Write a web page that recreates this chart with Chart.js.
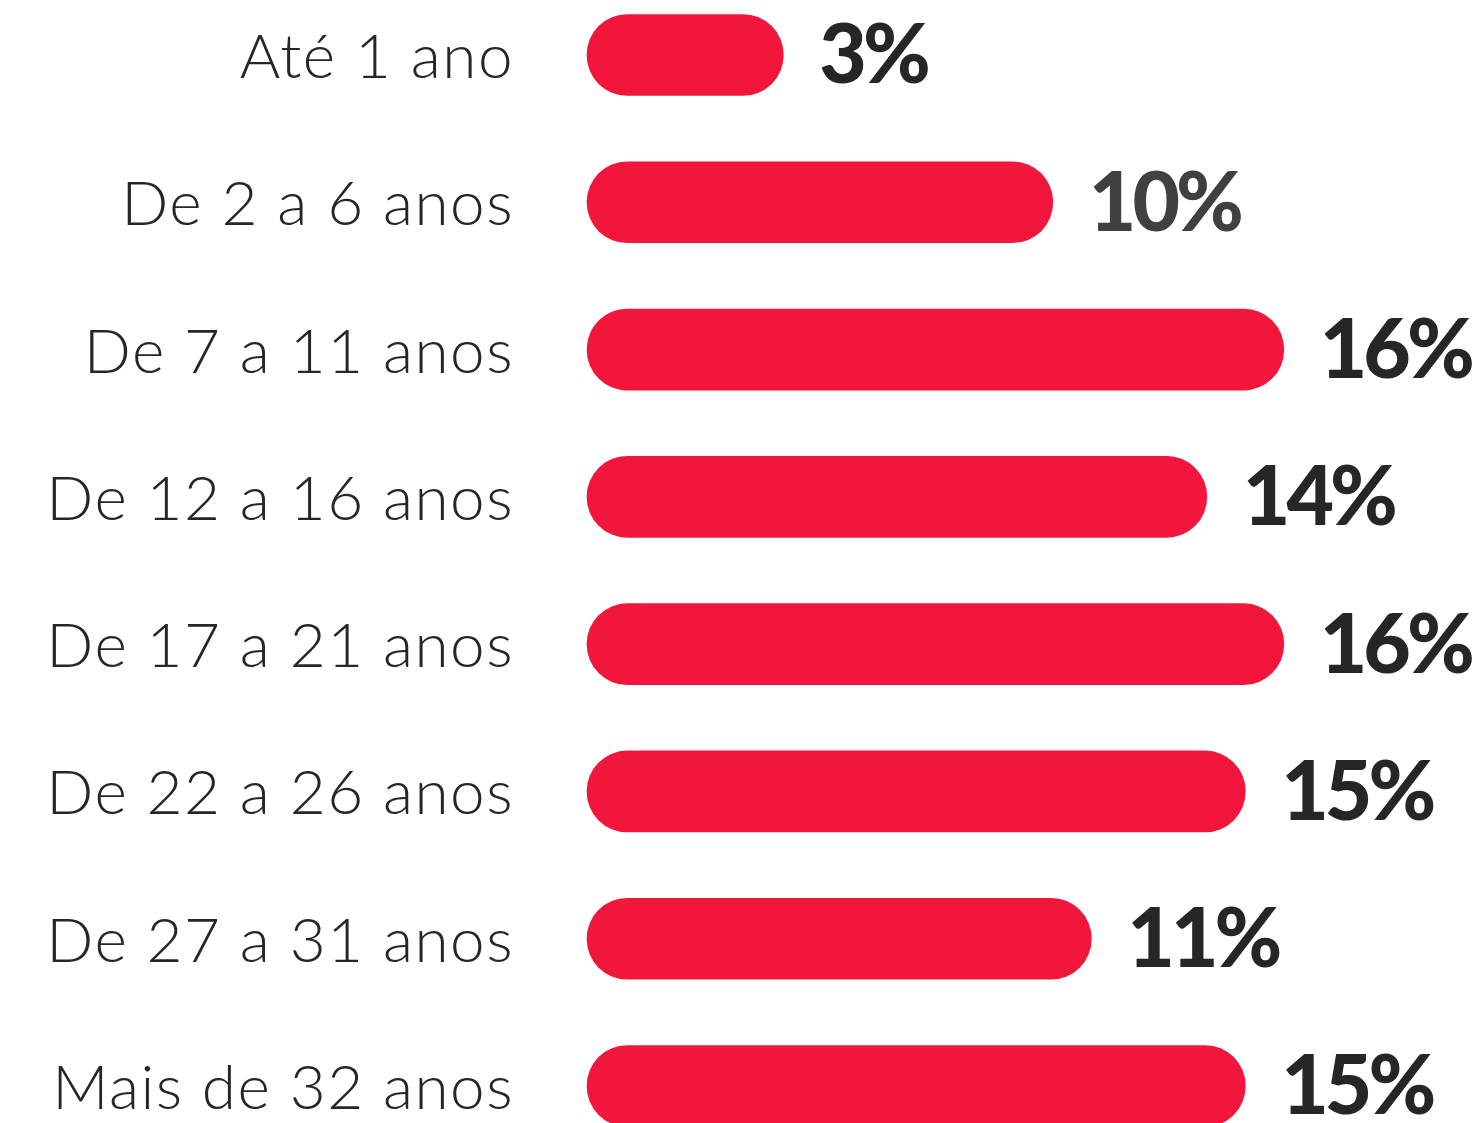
<!DOCTYPE html>
<html>
<head>
<meta charset="utf-8">
<script src="https://cdn.jsdelivr.net/npm/chart.js@4.4.1/dist/chart.umd.min.js"></script>
<style>
  html, body { margin: 0; padding: 0; background: #fff; }
  #wrap { width: 1484px; height: 1123px; }
</style>
</head>
<body>
<div id="wrap"><canvas id="mycanvas" width="1484" height="1123"></canvas></div>
<script>
var faixas = ["Até 1 ano", "De 2 a 6 anos", "De 7 a 11 anos", "De 12 a 16 anos",
              "De 17 a 21 anos", "De 22 a 26 anos", "De 27 a 31 anos", "Mais de 32 anos"];
var percentuais = [3, 10, 16, 14, 16, 15, 11, 15];
var rotulos = ["3%", "10%", "16%", "14%", "16%", "15%", "11%", "15%"];

// desenha os nomes das faixas e os percentuais
var textos = {
  id: 'textos',
  afterDatasetsDraw: function(chart) {
    var ctx = chart.ctx;
    var meta = chart.getDatasetMeta(0);
    ctx.save();
    ctx.textBaseline = 'middle';
    meta.data.forEach(function(bar, i) {
      ctx.fillStyle = '#262626';
      ctx.font = '300 62px Lato';
      ctx.textAlign = 'right';
      ctx.letterSpacing = '1.5px';
      ctx.fillText(faixas[i], 514, bar.y + 3);

      ctx.fillStyle = i == 1 ? '#404040' : '#262626';
      ctx.font = '900 82px Lato';
      ctx.textAlign = 'left';
      ctx.letterSpacing = '-4px';
      ctx.fillText(rotulos[i], bar.x + 36, bar.y + 2);
    });
    ctx.restore();
  }
};

var ctx = document.getElementById('mycanvas');
var grafico = new Chart(ctx, {
  type: 'bar',
  data: {
    labels: faixas,
    datasets: [{
      data: percentuais,
      base: -2.1,
      backgroundColor: '#f2163c',
      borderRadius: 41,
      borderSkipped: false,
      barThickness: 81,
      clip: false
    }]
  },
  options: {
    indexAxis: 'y',
    responsive: false,
    animation: false,
    layout: { padding: { left: 587, right: 0, top: 55, bottom: 37 } },
    scales: {
      x: { display: false, min: -2.1, max: 21.2 },
      y: { display: false, offset: false }
    },
    plugins: {
      legend: { display: false },
      tooltip: { enabled: false }
    }
  },
  plugins: [textos]
});
</script>
</body>
</html>
